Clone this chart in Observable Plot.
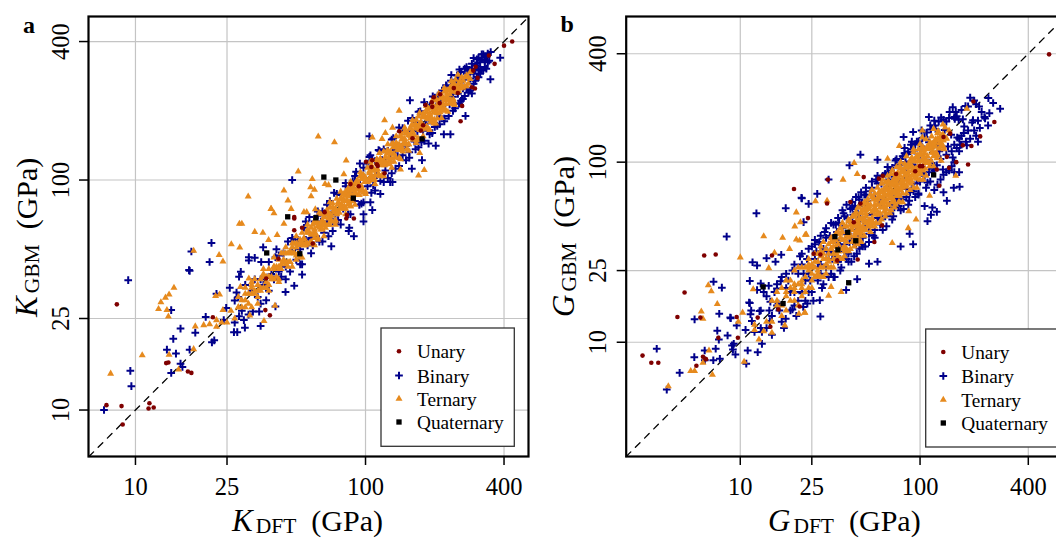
<!DOCTYPE html>
<html>
<head>
<meta charset="utf-8">
<script src="https://cdn.jsdelivr.net/npm/d3@7"></script>
<script src="https://cdn.jsdelivr.net/npm/@observablehq/plot@0.6"></script>
<style>
html,body{margin:0;padding:0;background:#fff;overflow:hidden}
#stage{position:relative;width:1056px;height:538px;overflow:hidden}
#stage svg{position:absolute;top:0;background:none;max-width:none;overflow:hidden}
</style>
</head>
<body>
<div id="stage"></div>
<script>
const ticks = [10, 25, 100, 400];
const categories = ["Unary", "Binary", "Ternary", "Quaternary"];
const colors = ["#7f0000", "#00008b", "#e68a1e", "#000000"];

const unaryA = [[8.3,28.8],[7.48,10.5],[8.7,10.4],[8.8,8.65],[11.5,10.7],[11.4,10.15],[12,10.25],[13.9,16.1],[13.6,16],[16.9,14.7],[17.5,14.5],[21.7,25.3],[36.7,27.2],[38.4,25.8],[37,37.3],[434,400],[400,384],[364,320],[344,348],[301,311],[294,299],[307,278],[242,251],[252,239],[290,253],[299,250],[263,210],[259,180],[198,229],[211,236],[182,212],[194,218],[195,208],[210,216],[178,173],[174,164],[140,163],[160,152],[100.5,120],[107,122],[112,117],[113,115],[106,114],[121,107],[93.5,94],[86,96],[66.4,72.5],[83,70.5],[82.5,68],[89,68],[59,53],[53,62],[49,69],[49,68],[49,60.5],[41.8,45.5]];

const quaternaryA = [[45.9,69.2],[51.8,47.8],[60.8,68.5],[88.5,83.4],[65.9,103],[74.3,100],[176,151],[37.2,48.2]];

const ternaryA = [[7.8,14.4],[10.7,17.3],[12.6,27.5],[12.9,29.4],[13.5,30.8],[14,31.8],[14.7,34],[13.7,27.2],[13.9,25.5],[14,17.4],[15.4,15],[17.9,18.4],[18.2,23.1],[19.8,23.4],[21,23.6],[22.5,24.6],[22.5,23],[23.7,24],[24,27.2],[22.3,31.3],[23.2,31.8],[36.2,24.4],[40.4,28.4],[31.4,25.8],[28.6,34.3],[31.1,37.3],[30.9,84.8],[38.9,74.9],[40,71.7],[28.3,64.5],[29,64.5],[33,59.5],[35.8,59],[41.3,57.7],[37.9,54.9],[26.1,52.6],[28.4,50.9],[23.1,47.2],[24,44.2],[17.9,49.3],[62.3,154.6],[73.3,146],[82.4,121.6],[51,108.9],[58.7,101],[80.5,106],[44.2,90],[57.7,93],[60,90.7],[58,85],[46,81.5],[66.7,96],[69.1,95],[38.8,74.9],[47.5,74.9],[54,72.5],[55.5,72.5],[60.5,74.6],[44.2,64.5],[121,182],[140,200],[122,160],[131,169],[107,153],[118,151],[170,104.7],[180,110.6],[142,111],[172,131],
[25,24],[26,27],[27,25],[28,28],[28,31],[29,28],[30,28],[30,32],[31,32],[32,28],[32,32],[33,37],[33,32],[34,35],[35,34],[35,37],[36,34],[37,38],[37,34],[38,38],[38,41],[39,38],[40,37],[40,42],[41,42],[42,37],[42,42],[43,48],[43,41],[44,45],[45,44],[45,48],[46,44],[47,49],[47,44],[48,48],[49,53],[49,48],[50,47],[50,53],[51,52],[52,46],[52,53],[53,59],[54,52],[54,56],[55,53],[56,60],[56,53],[57,59],[58,54],[58,58],[59,64],[60,59],[60,56],[61,65],[62,63],[62,55],[63,64],[64,71],[64,61],[65,67],[66,64],[67,72],[67,64],[68,71],[69,64],[69,69],[70,76],[71,70],[71,66],[72,76],[73,74],[74,66],[74,75],[75,83],[76,73],[77,79],[78,76],[78,83],[79,75],[80,83],[81,75],[81,81],[82,89],[83,81],[84,78],[84,89],[85,87],[86,77],[86,87],[87,97],[88,84],[89,92],[90,87],[90,96],[91,86],[92,96],[93,86],[94,94],[95,104],[96,94],[97,90],[98,104],[99,101],[100,89],[100,101],[102,113],[103,99],[104,107],[105,102],[106,113],[107,102],[108,112],[109,101],[110,110],[112,122],[113,111],[114,106],[115,122],[116,118],[118,105],[118,119],[120,133],[121,116],[122,126],[123,119],[125,134],[126,120],[128,133],[129,120],[130,130],[132,144],[133,130],[135,126],[136,144],[138,141],[140,125],[140,141],[143,159],[144,138],[146,150],[148,144],[150,160],[151,143],[153,159],[154,143],[156,156],[158,172],[159,156],[161,150],[163,173],[165,168],[167,149],[168,170],[170,189],[172,165],[174,179],[176,171],[178,190],[180,171],[182,189],[184,171],[186,186],[188,205],[190,186],[192,179],[194,206],[196,200],[198,176],[200,202],[203,225],[205,197],[208,214],[210,204],[213,228],[215,204],[218,227],[220,205],[223,223],[226,246],[228,223],[231,215],[234,248],[237,242],[240,214],[243,245],[246,273],[250,240],[254,262],[258,250],[262,280],[265,252],[270,280],[275,256],[280,280],[285,275],
[28,28],[29,30],[30,30],[31,29],[32,34],[33,33],[34,33],[35,33],[36,38],[37,36],[38,38],[39,37],[40,42],[41,38],[42,45],[43,43],[44,44],[45,43],[46,48],[47,44],[48,51],[49,48],[50,51],[51,48],[52,55],[53,53],[54,55],[55,52],[56,59],[57,53],[58,62],[59,58],[60,61],[61,58],[62,65],[63,62],[64,65],[65,61],[66,69],[67,62],[68,73],[69,68],[70,71],[71,67],[72,76],[73,72],[74,75],[75,71],[76,80],[77,72],[78,83],[79,78],[80,81],[81,77],[82,86],[83,82],[84,85],[85,80],[86,91],[87,81],[88,94],[89,87],[90,91],[91,87],[92,97],[93,92],[94,95],[95,90],[96,101],[97,90],[98,105],[99,98],[100,102],[102,98],[104,109],[106,105],[108,110],[110,105],[112,118],[114,106],[116,124],[118,116],[120,121],[122,117],[124,130],[126,125],[128,131],[130,124],[132,139],[134,125],[136,145],[138,136],[140,143],[142,136],[144,151],[146,144],[148,151],[150,143],[152,160],[154,143],[156,167],[158,155],[160,163],[163,157],[166,174],[169,167],[172,175],[175,166],[178,187],[181,168],[184,197],[187,184],[190,194],[193,185],[196,206],[199,196],[202,206],[205,195],[208,218],[211,197],[214,229],[217,213],[220,224],[223,214],[226,237],[229,226],[232,236],[235,223],[238,250],[241,224],[244,260],[247,243],[250,255],[254,244],[258,270],[262,258],[266,270],[270,256],[275,285],[280,262],[285,295],
[32,35],[34,31],[36,39],[38,35],[40,41],[42,41],[44,48],[46,42],[48,53],[50,45],[52,53],[54,52],[56,61],[58,53],[60,66],[62,56],[64,65],[66,64],[68,74],[70,64],[72,79],[74,67],[76,78],[78,76],[80,87],[82,75],[84,92],[86,77],[88,90],[90,87],[92,100],[94,86],[96,106],[98,88],[100,102],[103,100],[106,116],[109,100],[112,123],[115,104],[118,120],[121,117],[124,134],[127,117],[130,143],[133,120],[136,139],[139,135],[142,155],[145,133],[148,163],[151,136],[154,157],[157,152],[160,174],[163,150],[166,183],[169,152],[172,175],[175,170],[178,194],[181,167],[184,202],[187,168],[190,194],[193,187],[196,213],[199,183],[202,222],[205,185],[208,212],[211,205],[214,233],[217,200],[220,242],[223,201],[226,231],[229,222],[232,250],[235,216],[238,260],[242,218],[246,251],[250,242],
[30,34],[32,36],[34,29],[36,41],[38,33],[40,46],[42,36],[45,51],[48,42],[50,57],[53,46],[56,64],[60,52],[63,72],[66,57],[70,80],[74,64],[78,89],[82,71],[86,98],[90,78],[95,108],[100,87],[105,120],[110,96],[115,131],[120,104],[125,143],[130,113],[136,155],[142,123],[148,169],[154,134],[160,182],[166,145],[172,196],[178,155],[184,210],[190,165],[196,223],[202,176],[208,237],[214,186],[220,251],[228,198],[236,269],[244,212],[252,287]];

const binaryA = [[156,222],[48,100],[104,155],[105,128],[94.5,118],[91,108.6],[349,274],[385,340],[272,190],[234,158],[219,158],[202,141],[188,144],[176,122],[159,112],[131,98],[128,98],[116,87],[107,74],[98,71],[98,66],[89,57],[85,62],[84.5,60],[71,51.5],[105,80],[7.3,10],[9.6,12.7],[9.5,14.8],[9.3,36.7],[17.2,40.3],[14.3,27.2],[15.7,22.6],[14.6,20.4],[13.7,18.3],[15,17.6],[17.2,18.3],[18.2,21.7],[20.2,25.4],[14.3,14.5],[15.7,15.9],[16,15.4],[21.5,19.7],[22,20.1],[26.8,21.8],[27.7,21.8],[29.9,22.8],[35,23.2],[24.2,24.6],[28.2,25.6],[29.6,24.6],[32.4,26.8],[34.5,26.8],[22.5,32],[25.7,34],[24.8,27.8],[27.5,32.4],[27,29.9],[28.2,38],[28.7,39.9],[21.4,53.3],[17.5,48.9],[21,44],[17.1,40.6],[35.9,51],[31.1,46.2],[31.1,44.7],[33,45.9],[35.2,44],[40.6,46.2],[49,34.7],[53,38.8],[44.9,32.6],[40.6,28.2],
[27,24],[28,31],[29,27],[30,35],[31,26],[32,33],[33,37],[34,31],[35,37],[36,35],[37,30],[38,44],[39,39],[40,37],[41,50],[42,40],[43,38],[44,48],[45,42],[46,54],[47,40],[48,49],[49,55],[50,45],[51,55],[52,50],[53,43],[54,62],[55,55],[56,52],[57,69],[58,56],[59,52],[60,66],[61,57],[62,73],[63,54],[64,66],[65,73],[66,59],[67,72],[68,66],[69,57],[70,81],[71,71],[72,66],[73,88],[74,71],[76,67],[78,86],[80,75],[82,97],[84,71],[86,89],[88,99],[90,81],[92,98],[94,91],[96,79],[98,113],[100,100],[102,94],[104,126],[106,102],[108,95],[110,121],[112,105],[114,135],[116,99],[118,122],[120,136],[122,110],[125,134],[128,124],[130,107],[132,152],[135,135],[138,127],[140,169],[143,137],[145,128],[148,163],[150,141],[153,181],[155,132],[158,163],[160,181],[163,147],[166,178],[168,163],[170,139],[173,199],[175,175],[178,164],[180,218],[183,176],[186,164],[190,209],[193,181],[196,231],[200,170],[203,209],[206,233],[210,189],[213,228],[216,210],[220,180],[224,258],[228,228],[232,213],[236,286],[240,230],[244,215],[248,273],[252,237],[256,302],[260,221],[265,273],[270,305],[275,248],[280,300],[285,276],[290,238],[295,339],[300,300],[305,281],[310,340],[315,302],[320,300],[325,352],[330,330],[335,305],[340,355],[345,330],[350,360],[290,305],[300,315],[310,300],[315,325],[320,335],[330,345],[305,320],[295,290],[285,300],[275,290],[265,250],[260,280],[255,270],[250,262],[245,255],
[35,29],[38,33],[42,47],[45,37],[48,56],[52,43],[55,66],[58,48],[62,70],[65,54],[68,78],[72,60],[75,87],[78,64],[82,94],[86,71],[90,104],[94,78],[98,80],[102,118],[106,88],[110,90],[115,134],[120,98],[125,102],[130,150],[135,112],[140,115],[145,168],[150,122],[155,125],[160,186],[165,136],[170,198],[175,146],[180,148],[185,212],[190,158],[195,160],[200,228],[205,172],[210,175],[215,245],[220,185],[225,256],[230,190],[235,270],[240,200],[245,205],[250,285],[255,215],[260,295],[265,225],[270,232],[275,310],[280,240],[285,245],[290,320],[295,262],[300,270],[305,335],[310,280],[315,290],[320,352],[325,300],[330,310],[335,345],[340,325]];

const unaryB = [[2.86,8.43],[3.2,7.7],[3.5,7.7],[4.9,18.9],[4.47,13.8],[6,13.7],[7.55,10.6],[9.7,10.6],[9.55,13.8],[6.2,8.3],[6.4,8.1],[6.45,8.05],[5.7,7.4],[12.5,13.7],[14.7,12.2],[16.3,15.2],[21.4,15.8],[6.3,30.3],[7.3,30.7],[19.9,71],[23.8,48.9],[15,30.3],[522,397],[259,167],[198,217],[216,139],[193,123],[173,124],[147,144],[135,138],[141,107],[159,100],[185,97],[145,93],[124,91],[103,95],[100,95],[94,89],[128,74],[73.6,86],[62,84],[59,81],[48.6,82.6],[30.7,80],[30.4,59],[41,60],[46.6,59],[25.6,31],[27.9,30.7],[34.6,28.4],[45,28.8],[55.7,36],[61.5,44.5],[42.8,46.4]];

const quaternaryB = [[119,85],[33.6,38.6],[39.6,40.8],[43.9,36.6],[34.9,32.6],[40.1,21.4],[13.4,20.3],[17.3,16.4]];

const ternaryB = [[3.98,5.7],[5.3,6.93],[5.57,6.93],[7,6.6],[6.2,7.7],[6.7,9],[6.07,14.8],[6.2,13.5],[6.64,20.7],[6.9,19.2],[7.45,16.3],[9.75,13],[10.3,14.6],[10.5,7.8],[12,12.5],[12,11.7],[12.7,10.35],[13.5,11.5],[15,11.3],[17.7,12.4],[21.2,14.4],[22.9,14.6],[11.8,19.7],[10,29.6],[13.5,38.8],[17.2,38],[20.5,52.6],[20.1,44],[21.6,46.4],[23.3,39.6],[20.5,37.2],[21.4,36.7],[18.8,33],[15.5,31.4],[14.4,25.8],[76.7,123],[66,104.5],[43,99],[44.7,86],[37.3,80],[182,198],[134,162],[119,153],[103,150],[103,137],[158,84],[113,65],[95,48],[86.5,53.4],[86,43],[70,35.6],[23,39.5],[26.2,60.7],[30.4,61],[36.4,19],[31,18.1],[32,20.3],[22.8,14.6],
[14,13],[15,17],[15,13],[16,16],[16,19],[17,16],[17,14],[18,19],[18,18],[19,17],[19,22],[20,19],[20,21],[21,16],[21,26],[22,22],[22,20],[23,26],[23,19],[24,25],[24,29],[25,24],[25,20],[26,28],[26,26],[27,23],[27,31],[28,26],[28,30],[29,23],[29,36],[30,29],[30,27],[31,35],[31,26],[32,33],[32,38],[33,31],[33,26],[34,37],[34,34],[35,30],[35,41],[36,33],[36,38],[37,29],[37,46],[38,37],[38,34],[39,44],[39,33],[40,41],[40,48],[41,39],[41,33],[42,45],[42,42],[43,37],[43,50],[44,41],[44,47],[45,35],[45,56],[46,45],[46,41],[47,53],[47,39],[48,49],[48,58],[49,47],[49,39],[50,54],[50,50],[51,44],[51,59],[52,48],[52,55],[53,41],[53,66],[54,53],[54,49],[55,62],[55,46],[56,58],[56,67],[57,54],[57,46],[58,63],[58,58],[59,51],[59,68],[60,56],[60,64],[61,48],[61,76],[62,61],[62,56],[63,71],[63,53],[64,66],[64,77],[65,62],[65,52],[66,71],[66,66],[67,58],[67,78],[68,63],[68,72],[69,54],[69,86],[70,69],[70,63],[71,80],[71,60],[72,74],[72,86],[73,69],[73,58],[74,80],[74,74],[75,65],[75,87],[76,71],[76,81],[77,60],[77,95],[78,76],[78,70],[80,90],[80,67],[82,84],[82,98],[84,80],[84,67],[86,93],[86,86],[88,77],[88,102],[90,84],[90,95],[92,72],[92,114],[94,92],[94,85],[96,108],[96,81],[98,101],[98,118],[100,95],[100,80],[102,110],[102,102],[104,90],[104,121],[106,99],[106,112],[108,84],[108,134],[110,108],[110,99],[113,127],[113,95],[116,119],[116,139],[119,113],[119,95],[122,132],[122,122],[125,109],[125,145],[128,119],[128,136],[131,102],[131,140],[135,132],[135,122],[140,135],[145,150],
[20,20],[22,21],[24,26],[26,23],[28,32],[30,29],[32,33],[34,31],[36,40],[38,32],[40,47],[42,42],[44,44],[45,42],[46,49],[47,41],[48,54],[49,48],[50,52],[51,46],[52,57],[53,45],[54,64],[55,54],[56,56],[57,54],[58,62],[59,52],[60,68],[61,59],[62,64],[63,57],[64,70],[65,55],[66,78],[67,66],[68,68],[69,65],[70,75],[71,62],[72,81],[73,71],[74,77],[75,68],[76,84],[77,65],[78,92],[79,78],[80,80],[81,76],[82,88],[83,73],[84,95],[85,82],[86,89],[87,79],[88,97],[89,76],[90,106],[91,90],[92,92],[93,87],[94,101],[95,84],[96,108],[97,94],[98,102],[99,90],[100,110],[101,86],[102,120],[104,103],[106,106],[108,102],[110,118],[112,99],[114,129],[116,113],[118,123],[120,109],[122,134],[124,105],[126,149],[128,127],[130,130],[132,124],[134,143],[136,118],[138,156],[140,136],
[25,27],[27,25],[29,31],[31,29],[33,36],[35,32],[37,41],[39,36],[41,45],[43,39],[44,51],[45,47],[46,43],[47,52],[48,44],[49,55],[50,46],[51,57],[52,46],[53,58],[54,47],[55,64],[56,51],[57,61],[58,52],[59,65],[60,52],[61,69],[62,59],[63,66],[64,60],[65,73],[66,58],[67,76],[68,64],[69,76],[70,60],[71,77],[72,67],[73,80],[74,65],[75,83],[76,67],[77,85],[78,72],[79,88],[80,72],[81,90],[82,74],[83,94],[84,74],[85,95],[86,78],[87,97],[88,82],[89,96],[90,78],[91,103],[92,86],[93,102],[94,82],[95,106],[96,88],[97,109],[98,86],[99,110],[100,92],[101,112],[103,93],[105,116],[107,92],[109,121],[111,100],[113,122],[115,102],[117,127],[119,108],[121,129],[123,113],[125,135],
[16,17],[17,20],[18,15],[18,22],[19,20],[20,17],[20,25],[21,21],[22,18],[22,26],[23,23],[24,20],[24,27],[25,26],[25,22],[26,31],[26,23],[27,28],[27,24],[28,34],[28,23],[29,29],[29,26],[30,33],[30,24],[31,31],[31,28],[32,36],[32,26],[33,34],[33,29],[34,40],[34,28],[35,35],[35,32],[36,43],[36,29],[37,37],[37,33],[38,44],[38,30],[39,39],[39,36],[40,38],[40,32],[41,47],[41,42],[42,36],[42,50],[43,44],[43,34],[44,38],[44,53],[45,46],[45,40],[46,37],[46,56],[47,48],[47,36],[48,42],[49,60],[50,42],[51,62],[53,44],[54,70],[56,44],[58,72],[60,46],[62,80],[64,50],[66,84],[68,52],[70,90],[72,56],[74,94],[76,60],[78,100],[80,60],[84,108],[88,70],[92,118],[96,72],[100,126],[104,80]];

const binaryB = [[3.43,9.2],[4.6,6.76],[3.9,5.46],[5.57,13.4],[7.1,21.7],[7.9,20.1],[7.64,14.4],[7.45,11.6],[7.6,10.35],[8.5,10.9],[8.8,13.7],[8.85,13.6],[9.55,12.4],[6.34,9],[7.3,9.2],[5.55,8.26],[6.35,7.94],[7.08,7.94],[7.7,8.1],[9,9.6],[9.2,9.8],[9.1,9.1],[9.4,8.55],[10.8,7.6],[10.7,11.7],[11.6,13.1],[11.4,14.3],[11.2,16.6],[11.3,16.5],[13.2,9.8],[13.2,11.4],[14.6,13.1],[12.8,14.9],[11.3,21.9],[13,21.2],[12.4,19.5],[14.4,20.6],[14.7,16.8],[16.3,16.4],[19.5,15.2],[17.9,13.5],[16,19.9],[16.8,21.8],[22.1,18.7],[23.6,16.4],[8.4,38.6],[12.3,52],[17.9,55.5],[21.9,63.4],[24,58.7],[22.5,46.4],[11.7,27.8],[12.4,26.7],[14,29.3],[15.7,28],[16.9,30.6],[279,198],[240,227],[255,213],[152,202],[112,178],[156,174],[197,171],[228,178],[243,187],[239,160],[213,204],[81,138],[91.5,147],[46.6,110],[40.5,96],[58,103],[31,80],[26.8,66.7],[22,63],[141,61],[166,73],[154,72],[135,68],[106,57],[117,56],[124,53],[115,51],[110,47],[91.5,35],[87.5,40],[78,34],[58,28],[52,27.3],[44.7,22.4],[38.8,19.5],[27.9,13.9],[27.7,17.1],[22.4,15.7],
[11,9],[11.5,15],[12,11.4],[12.5,8.8],[13,15],[13.5,19],[14,12],[14.5,15],[15,11],[15.5,19],[16,16],[16.5,15],[17,23],[17.5,12],[18,20],[18.5,22],[19,15],[19.5,25],[20,19],[20.5,14],[21,24],[21.5,30],[22,19],[22.5,24],[23,17],[23.5,29],[24,24],[24.5,22],[25,34],[25.5,17],[26,29],[26.5,32],[27,22],[27.5,36],[28,27],[28.5,20],[29,33],[29.5,41],[30,26],[30.5,32],[31,23],[31.5,39],[32,32],[32.5,29],[33,45],[33.5,23],[34,37],[34.5,41],[35,28],[35.5,46],[36,34],[36.5,26],[37,43],[37.5,52],[38,32],[38.5,40],[39,29],[39.5,49],[40,40],[40.5,36],[41,55],[41.5,28],[42,46],[42.5,51],[43,37],[43.5,57],[44,42],[44.5,31],[45,52],[45.5,64],[46,39],[46.5,49],[47,35],[47.5,59],[48,48],[48.5,44],[49,66],[49.5,34],[50,55],[51,61],[52,44],[53,69],[54,51],[55,39],[56,64],[57,80],[58,49],[59,62],[60,45],[61,76],[62,62],[63,57],[64,86],[65,44],[66,73],[67,80],[68,58],[69,90],[70,66],[71,50],[72,83],[73,102],[74,63],[75,79],[76,57],[77,96],[78,78],[79,71],[80,108],[81,55],[82,90],[83,100],[84,71],[85,111],[86,82],[87,61],[88,101],[89,125],[90,77],[91,96],[92,69],[93,116],[94,94],[95,86],[96,130],[98,67],[100,110],[102,122],[104,88],[106,138],[108,103],[110,77],[112,129],[114,160],[116,99],[118,124],[120,90],[122,153],[125,125],[128,115],[131,177],[134,91],[137,151],[140,168],[143,122],[146,190],[149,142],[152,106],[155,178],[158,190],[161,137],[164,172],[167,125],[170,195],[173,173],[176,158],[179,205],[182,124],[185,204],[190,228],[195,166],[200,220],[210,170],[220,190],[230,175],[215,155],[205,210],[175,145],[185,150],[190,135],[200,150],[205,140],[210,130],[180,130],[170,125],[165,115],[160,120],[155,100],[150,95],[145,90],[140,88],[135,85],[130,80],[125,75],[120,70],[165,88],[155,88],
[20,16],[22,27],[24,19],[26,35],[28,24],[30,38],[32,24],[34,45],[36,29],[38,50],[40,31],[42,56],[44,35],[46,62],[48,38],[50,66],[52,40],[54,72],[56,42],[58,76],[60,48],[62,84],[64,50],[66,88],[68,52],[70,93],[72,56],[74,96],[76,62],[78,104],[80,62],[82,112],[84,64],[86,114],[88,68],[90,118],[92,72],[94,126],[96,76],[98,130],[100,78],[103,136],[106,84],[109,146],[112,88],[115,152],[118,92],[121,160],[124,96],[127,168],[130,104],[135,172],[140,110],[145,176],[150,115],[155,125],[160,180],[165,135],[170,140],
[13,12],[14,18],[15,14],[16,21],[17,13],[18,24],[19,19],[20,27],[21,17],[22,31],[23,22],[24,33],[25,19],[26,37],[27,26],[28,39],[29,21],[30,43],[31,29],[32,46],[33,23],[34,30],[35,49],[36,25],[37,54],[38,35],[39,58],[40,28],[41,38],[42,60],[43,30],[44,64],[45,36],[46,33],[47,68],[48,34],[50,72],[52,36],[54,78],[56,38],[58,84],[62,42],[66,94],[70,48],[74,104],[78,54],[82,120],[86,58],[90,130],[94,64],[98,66],[102,150],[108,72],[114,78],[120,170]];

const serif = "'Liberation Serif','Times New Roman',serif";
const sizes = {circle: 2.3, plus: 2.6, triangle: 2.6, square: 3};

function symbolMark(data, sym, color) {
  const stroke = sym === "plus";
  return Plot.dot(data, {
    x: d => d[0], y: d => d[1], r: sizes[sym], symbol: sym,
    fill: stroke ? "none" : color,
    stroke: stroke ? color : "none",
    strokeWidth: stroke ? 2 : 0
  });
}

function panel(left, width, marginLeft, marginRight, xDomain, yDomain, diag, sets) {
  const svg = Plot.plot({
    width, height: 538,
    marginLeft, marginRight, marginTop: 16, marginBottom: 82,
    style: {fontFamily: serif, background: "transparent", color: "#000", overflow: "hidden"},
    x: {type: "log", domain: xDomain},
    y: {type: "log", domain: yDomain},
    marks: [
      Plot.gridX(ticks, {stroke: "#c4c4c4", strokeOpacity: 1, strokeWidth: 1.2}),
      Plot.gridY(ticks, {stroke: "#c4c4c4", strokeOpacity: 1, strokeWidth: 1.2}),
      Plot.line(diag, {x: d => d[0], y: d => d[1], stroke: "#000", strokeWidth: 1.3, strokeDasharray: "6.5,6.5"}),
      symbolMark(sets[0], "plus", colors[1]),
      symbolMark(sets[1], "triangle", colors[2]),
      symbolMark(sets[2], "circle", colors[0]),
      symbolMark(sets[3], "square", colors[3]),
      Plot.frame({stroke: "#000", strokeWidth: 2.2}),
      Plot.axisX({ticks, label: null, tickSize: 9, tickPadding: 12, fontSize: 24.5, tickFormat: d => String(d), strokeWidth: 1.5, textOverflow: null}),
      Plot.axisY({ticks, label: null, tickSize: 9, tickPadding: 11, fontSize: 24.5, tickRotate: -90, tickFormat: d => String(d), strokeWidth: 1.5})
    ]
  });
  svg.style.left = left + "px";
  document.getElementById("stage").appendChild(svg);
}

panel(0, 530, 88, 2, [6.25, 511], [6.28, 514], [[6.28,6.28],[511,511]], [binaryA, ternaryA, unaryA, quaternaryA]);
panel(550, 520, 75.7, 4.3, [2.32, 650], [2.32, 644], [[2.32,2.32],[644,644]], [binaryB, ternaryB, unaryB, quaternaryB]);

// Labels and legends
const overlay = d3.select("#stage").append("svg")
  .attr("width", 1056).attr("height", 538)
  .style("left", "0px").style("font-family", serif);

function axisTitle(x, y, rotate, letter, sub) {
  const t = overlay.append("text").attr("transform", `translate(${x},${y}) rotate(${rotate})`).attr("fill", "#000");
  t.append("tspan").attr("font-style", "italic").attr("font-size", 31).text(letter);
  t.append("tspan").attr("font-size", 21.5).attr("dx", 3).attr("dy", 2.4).text(sub);
  t.append("tspan").attr("font-size", 30).attr("dx", 15).attr("dy", -2.4).text("(GPa)");
}
axisTitle(232, 531, 0, "K", "DFT");
axisTitle(37, 317, -90, "K", "GBM");
axisTitle(768, 531, 0, "G", "DFT");
axisTitle(574, 317, -90, "G", "GBM");

overlay.append("text").attr("x", 23).attr("y", 33).attr("font-size", 24).attr("font-weight", "bold").text("a");
overlay.append("text").attr("x", 560.5).attr("y", 32).attr("font-size", 24).attr("font-weight", "bold").text("b");

function legend(x, y, w, h, symX, textX, rows) {
  overlay.append("rect").attr("x", x).attr("y", y).attr("width", w).attr("height", h)
    .attr("fill", "#fff").attr("stroke", "#333").attr("stroke-width", 1.3);
  const syms = [d3.symbolCircle, d3.symbolPlus, d3.symbolTriangle, d3.symbolSquare];
  const rad = [sizes.circle, sizes.plus, sizes.triangle, sizes.square];
  categories.forEach((c, i) => {
    const isPlus = i === 1;
    overlay.append("path")
      .attr("d", d3.symbol(syms[i], Math.PI * rad[i] * rad[i])())
      .attr("transform", `translate(${symX},${rows[i]})`)
      .attr("fill", isPlus ? "none" : colors[i])
      .attr("stroke", isPlus ? colors[i] : "none")
      .attr("stroke-width", isPlus ? 2 : 0);
    overlay.append("text").attr("x", textX).attr("y", rows[i] + 7).attr("font-size", 19.3).attr("fill", "#000").text(c);
  });
}
legend(381, 328, 133.3, 118.3, 399, 417, [351.3, 375.5, 398.7, 422]);
legend(925.7, 329, 133.3, 118, 943.3, 961.3, [352, 376, 399.7, 423]);
</script>
</body>
</html>
